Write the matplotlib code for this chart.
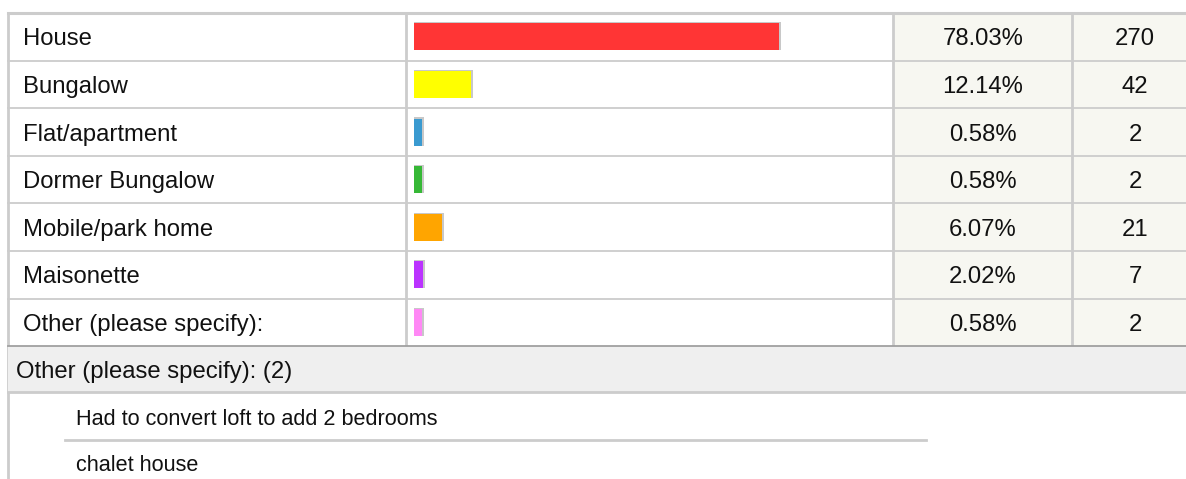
import matplotlib
matplotlib.use("Agg")
import matplotlib.pyplot as plt
from matplotlib.patches import Rectangle

plt.rcParams['font.family'] = ['Liberation Sans', 'DejaVu Sans']

# ---- data ----
categories = ["House", "Bungalow", "Flat/apartment", "Dormer Bungalow",
              "Mobile/park home", "Maisonette", "Other (please specify):"]
percents = [78.03, 12.14, 0.58, 0.58, 6.07, 2.02, 0.58]
counts = [270, 42, 2, 2, 21, 7, 2]
bar_colors = ["#FF3535", "#FFFF00", "#3A9AD0", "#36B836", "#FFA500", "#BB33FF", "#FF88F5"]
other_header = "Other (please specify): (2)"
other_answers = ["Had to convert loft to add 2 bedrooms", "chalet house"]

# ---- layout (pixels) ----
W, H = 1186, 479
top = 13
row_h = 47.6
n = len(categories)
table_bottom = top + n * row_h
left_x = 8
col1 = 406
col2 = 893
col3 = 1072
col4 = 1200
line_c = "#CCCCCC"
fs = 17.2
fs_small = 15.6
txt_c = "#111111"

fig = plt.figure(figsize=(W / 100, H / 100), dpi=100)
ax = fig.add_axes([0, 0, 1, 1])
ax.set_xlim(0, W)
ax.set_ylim(H, 0)
ax.axis("off")


def cap_text(x, yc, s, size, **kw):
    # place text so that its capital letters are vertically centred on yc
    cap_px = 0.716 * size / 0.72
    ax.text(x, yc + cap_px / 2, s, va="baseline", fontsize=size, color=txt_c, **kw)


# shaded numeric columns
ax.add_patch(Rectangle((col2, top), col4 - col2, n * row_h, facecolor="#F7F7F1", edgecolor="none", zorder=0))

# row lines
for i in range(1, n):
    y = top + i * row_h
    ax.plot([left_x, W], [y, y], color=line_c, lw=1.3, zorder=1)
ax.plot([left_x, W], [top, top], color=line_c, lw=2.2, zorder=1)
# column lines
for x in (col1, col2, col3):
    ax.plot([x, x], [top, table_bottom + 2], color=line_c, lw=2, zorder=1)
# left border
ax.plot([left_x, left_x], [top, H], color=line_c, lw=2, zorder=1)

# texts in rows
for i, (cat, p, c) in enumerate(zip(categories, percents, counts)):
    yc = top + (i + 0.5) * row_h
    cap_text(23, yc, cat, fs, ha="left")
    cap_text((col2 + col3) / 2 + 0.5, yc, f"{p:.2f}%", fs, ha="center")
    cap_text(1135, yc, f"{c}", fs, ha="center")

# gray band
band_top = table_bottom
band_bot = 392
ax.add_patch(Rectangle((left_x, band_top), W - left_x, band_bot - band_top, facecolor="#EFEFEF", edgecolor="none", zorder=2))
ax.plot([left_x, W], [band_top, band_top], color="#A0A0A0", lw=1.3, zorder=3)
ax.plot([left_x, W], [band_bot, band_bot], color=line_c, lw=2, zorder=3)
cap_text(16, (band_top + band_bot) / 2 + 0.5, other_header, fs, ha="left", zorder=4)

# other answers
ans_y = [417, 463]
for t, y in zip(other_answers, ans_y):
    cap_text(76, y, t, fs_small, ha="left")
ax.plot([65, 926], [440, 440], color=line_c, lw=2)

# ---- bars ----
bar_left_px = 414
px_per_pct = 4.68
bax = fig.add_axes([bar_left_px / W, 1 - table_bottom / H, 100 * px_per_pct / W, n * row_h / H])
bax.set_xlim(0, 100)
bax.set_ylim(n - 0.5, -0.5)
bax.axis("off")
bax.patch.set_alpha(0)

min_w = 1.65
disp = [max(p, min_w) for p in percents]
ys = list(range(n))
bh = 27 / row_h
dh = 1.2 / row_h
shadow_extra = 2.0 / px_per_pct
bax.barh([y - dh / 2 for y in ys], [d + shadow_extra for d in disp], height=bh + dh,
         left=0, color="#C8C8C8", edgecolor="none", zorder=1)
bax.barh(ys, disp, height=bh, left=0, color=bar_colors, edgecolor="none", zorder=2)

fig.savefig("out.png", dpi=100)
